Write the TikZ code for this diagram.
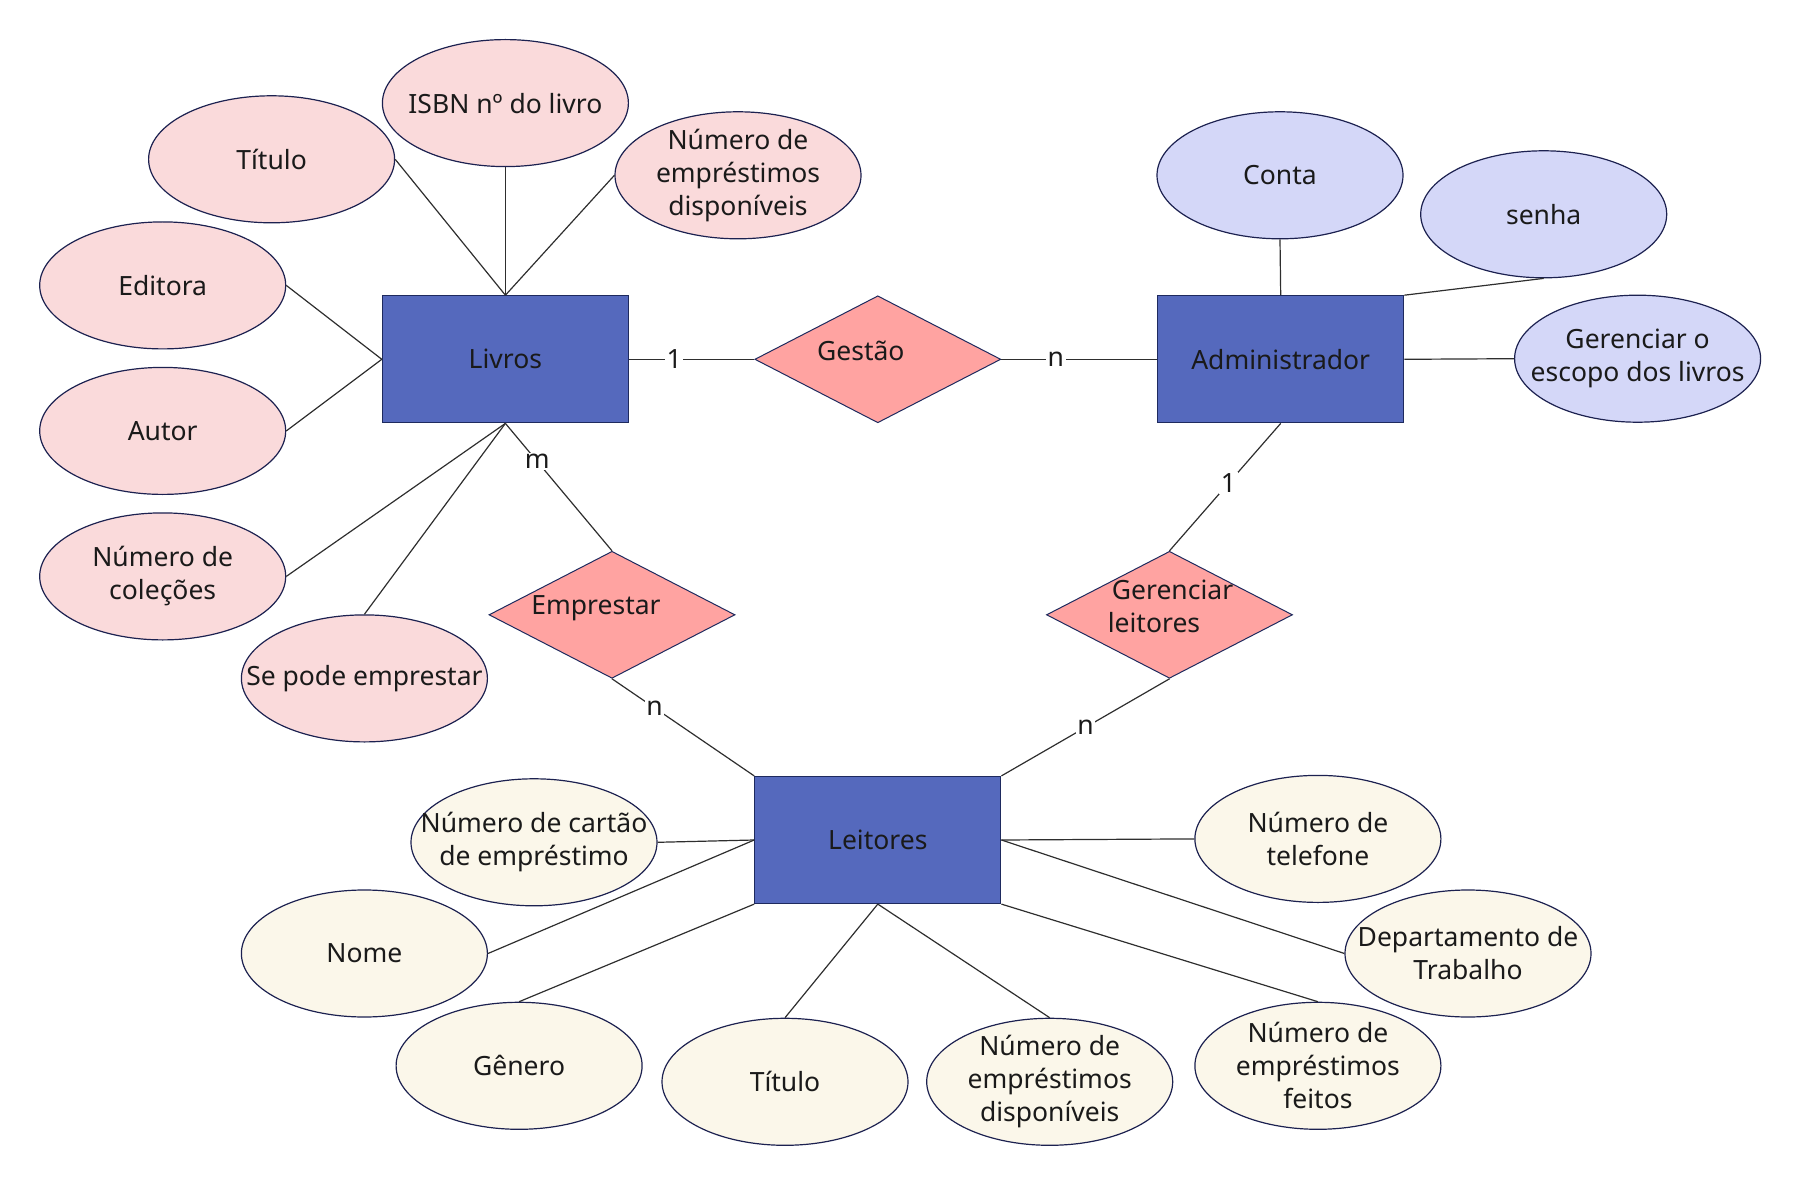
\documentclass[tikz,border=0pt]{standalone}
\usepackage{fontspec}
\setmainfont{Noto Sans}
\usetikzlibrary{shapes.geometric}
\definecolor{entfill}{HTML}{5569BD}
\definecolor{entdraw}{HTML}{1E2A5E}
\definecolor{relfill}{HTML}{FFA3A1}
\definecolor{pinkfill}{HTML}{FADADB}
\definecolor{lavfill}{HTML}{D4D7F8}
\definecolor{creamfill}{HTML}{FBF7EA}
\definecolor{bord}{HTML}{1C2150}
\definecolor{linec}{HTML}{2E2E2E}
\definecolor{txt}{HTML}{1A1A1A}
\begin{document}
\begin{tikzpicture}[x=1pt,y=-1pt,
  every node/.style={font=\fontsize{26.5}{33}\selectfont, text=txt},
  entity/.style={rectangle, draw=entdraw, line width=1.2pt, fill=entfill, minimum width=246pt, minimum height=127pt, inner sep=0pt},
  rel/.style={diamond, draw=entdraw, line width=1pt, fill=relfill, minimum width=246pt, minimum height=127pt, inner sep=0pt},
  attr/.style={ellipse, draw=bord, line width=1.2pt, minimum width=246pt, minimum height=127pt, inner xsep=-45pt, inner ysep=-25pt, align=center},
  pinkattr/.style={attr, fill=pinkfill},
  lavattr/.style={attr, fill=lavfill},
  creamattr/.style={attr, fill=creamfill},
  conn/.style={draw=linec, line width=1.2pt},
  card/.style={fill=white, inner sep=1.5pt}
]
\useasboundingbox (0,0) rectangle (1797,1182);

% attributes (drawn first)
\node[pinkattr] (titulo) at (271.6,159.3) {Título};
\node[pinkattr] (isbn) at (505.4,103.1) {ISBN nº do livro};
\node[pinkattr] (numemp) at (738,175.3) {Número de\\empréstimos\\disponíveis};
\node[pinkattr] (editora) at (162.7,285.4) {Editora};
\node[pinkattr] (autor) at (162.7,430.9) {Autor};
\node[pinkattr] (colecoes) at (162.7,576.4) {Número de\\coleções};
\node[pinkattr] (sepode) at (364.4,678.4) {Se pode emprestar};

\node[lavattr] (conta) at (1280,175.3) {Conta};
\node[lavattr] (senha) at (1543.7,214.3) {senha};
\node[lavattr] (escopo) at (1637.6,358.7) {Gerenciar o\\escopo dos livros};

\node[creamattr] (cartao) at (534,842.3) {Número de cartão\\de empréstimo};
\node[creamattr] (nome) at (364.4,953.5) {Nome};
\node[creamattr] (genero) at (519.1,1065.8) {Gênero};
\node[creamattr] (titulo2) at (785,1081.8) {Título};
\node[creamattr] (numemp2) at (1049.7,1081.8) {Número de\\empréstimos\\disponíveis};
\node[creamattr] (telefone) at (1317.9,838.9) {Número de\\telefone};
\node[creamattr] (depto) at (1468,953.5) {Departamento de\\Trabalho};
\node[creamattr] (feitos) at (1317.9,1065.8) {Número de\\empréstimos\\feitos};

% entities and relationships
\node[entity] (livros) at (505.4,359.3) {Livros};
\node[entity] (admin) at (1280.7,359.3) {Administrador};
\node[entity] (leitores) at (877.8,840) {Leitores};
\node[rel] (gestao) at (877.8,359.3) {};
\node[rel] (emprestar) at (612,614.8) {};
\node[rel] (gerenciar) at (1169.5,614.8) {};
\node (gestaot) at ([xshift=-17pt,yshift=8pt]gestao.center) {Gestão};
\node (emprestart) at ([xshift=-16pt,yshift=7pt]emprestar.center) {Emprestar};
\node[align=left] (gerenciart) at ([xshift=1pt,yshift=8pt]gerenciar.center) {\hspace*{4pt}Gerenciar\\leitores};

% Livros attribute connectors
\draw[conn] (titulo.east) -- (livros.north);
\draw[conn] (isbn.south) -- (livros.north);
\draw[conn] (numemp.west) -- (livros.north);
\draw[conn] (editora.east) -- (livros.west);
\draw[conn] (autor.east) -- (livros.west);
\draw[conn] (colecoes.east) -- (livros.south);
\draw[conn] (sepode.north) -- (livros.south);

% Admin attribute connectors
\draw[conn] (conta.south) -- (admin.north);
\draw[conn] (senha.south) -- (admin.north east);
\draw[conn] (escopo.west) -- (admin.east);

% Leitores attribute connectors
\draw[conn] (cartao.east) -- (leitores.west);
\draw[conn] (nome.east) -- (leitores.west);
\draw[conn] (genero.north) -- (leitores.south west);
\draw[conn] (titulo2.north) -- (leitores.south);
\draw[conn] (numemp2.north) -- (leitores.south);
\draw[conn] (telefone.west) -- (leitores.east);
\draw[conn] (depto.west) -- (leitores.east);
\draw[conn] (feitos.north) -- (leitores.south east);

% relationship connectors with cardinalities
\draw[conn] (livros.east) -- node[card, pos=0.36] {1} (gestao.west);
\draw[conn] (gestao.east) -- node[card, pos=0.35] {n} (admin.west);
\draw[conn] (livros.south) -- node[card, pos=0.3] {m} (emprestar.north);
\draw[conn] (emprestar.south) -- node[card, pos=0.3] {n} (leitores.north west);
\draw[conn] (admin.south) -- node[card, pos=0.47] {1} (gerenciar.north);
\draw[conn] (gerenciar.south) -- node[card, pos=0.5] {n} (leitores.north east);
\end{tikzpicture}
\end{document}
